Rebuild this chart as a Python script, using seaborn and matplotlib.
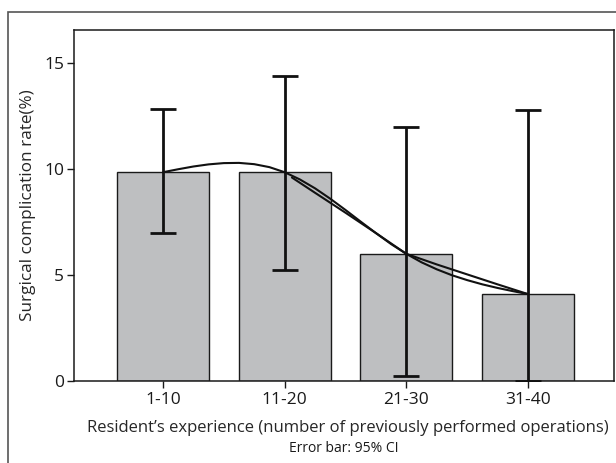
import matplotlib
matplotlib.use("Agg")
import matplotlib.pyplot as plt
from matplotlib.patches import Rectangle
import seaborn as sns
import pandas as pd

# bar means (%) and 95% CI
groups = ["1-10", "11-20", "21-30", "31-40"]
rate = [9.85, 9.85, 6.0, 4.1]
ci_low = [6.98, 5.25, 0.25, 0.0]
ci_high = [12.85, 14.4, 12.0, 12.77]

# the two fit lines, read along the category axis (0 = "1-10", 3 = "31-40")
curve_a_x = [0, 0.125, 0.25, 0.375, 0.5, 0.625, 0.75, 0.875,
             1, 1.125, 1.25, 1.375, 1.5, 1.625, 1.75, 1.875,
             2, 2.125, 2.25, 2.375, 2.5, 2.625, 2.75, 2.875, 3]
curve_a_y = [9.85, 9.99, 10.12, 10.22, 10.28, 10.29, 10.23, 10.09,
             9.85, 9.51, 9.09, 8.60, 8.07, 7.52, 6.98, 6.46,
             6.0, 5.60, 5.27, 4.99, 4.76, 4.56, 4.39, 4.24, 4.1]
curve_b_x = [1.06, 1.25, 1.5, 1.75, 2.0, 2.25, 2.5, 2.75, 3.0]
curve_b_y = [9.60, 8.88, 7.94, 6.98, 6.0, 5.50, 5.03, 4.56, 4.1]

df = pd.DataFrame({"group": groups, "rate": rate})

sns.set_theme(style="ticks")
plt.rcParams['font.family'] = ['Open Sans', 'DejaVu Sans']
plt.rcParams['text.color'] = '#1a1a1a'

fig = plt.figure(figsize=(6.16, 4.63), dpi=100)
ax = fig.add_axes([74 / 616, 1 - 381 / 463, 540 / 616, 351 / 463])

sns.barplot(data=df, x="group", y="rate", color="#bebfc1", saturation=1,
            width=0.756, errorbar=None, edgecolor="#1a1a1a", linewidth=1.0, ax=ax)

sns.lineplot(x=curve_a_x, y=curve_a_y, sort=False, estimator=None,
             color="#111111", linewidth=1.5, ax=ax)
sns.lineplot(x=curve_b_x, y=curve_b_y, sort=False, estimator=None,
             color="#111111", linewidth=1.5, ax=ax)

pos = list(range(len(groups)))
lower = [r - lo for r, lo in zip(rate, ci_low)]
upper = [hi - r for r, hi in zip(rate, ci_high)]
ax.errorbar(pos, rate, yerr=[lower, upper], fmt="none", ecolor="#111111",
            elinewidth=2.0, capsize=9.5, capthick=2.0, zorder=5)

ax.set_xlim(-0.731, 3.707)
ax.set_ylim(0, 16.56)
ax.set_yticks([0, 5, 10, 15])
ax.set_yticklabels(["0", "5", "10", "15"])

for side in ["top", "right", "left", "bottom"]:
    ax.spines[side].set_visible(True)
    ax.spines[side].set_color("#1a1a1a")
    ax.spines[side].set_linewidth(1.1)

ax.tick_params(axis="both", length=5, width=1, color="#1a1a1a",
               labelsize=12.5, labelcolor="#1a1a1a")
ax.tick_params(axis="y", pad=2)
ax.tick_params(axis="x", pad=3)

ax.set_xlabel("Resident\u2019s experience (number of previously performed operations)",
              fontsize=12.0)
ax.xaxis.label.set_va("center")
ax.xaxis.set_label_coords(274 / 540, -47 / 351)
ax.set_ylabel("Surgical complication rate(%)", fontsize=12.3)
ax.yaxis.label.set_va("center")
ax.yaxis.set_label_coords(-46 / 540, 0.5)

fig.text(344 / 616, 1 - 448 / 463, "Error bar: 95% CI", ha="center", va="center",
         fontsize=10)

# outer frame of the figure panel (cut off at right and bottom)
fig.patches.append(Rectangle((8 / 616, -0.1), 1.2, 1 - 12 / 463 + 0.1,
                             transform=fig.transFigure, fill=False,
                             edgecolor="#555555", linewidth=1.2))

fig.savefig("out.png", dpi=100)
